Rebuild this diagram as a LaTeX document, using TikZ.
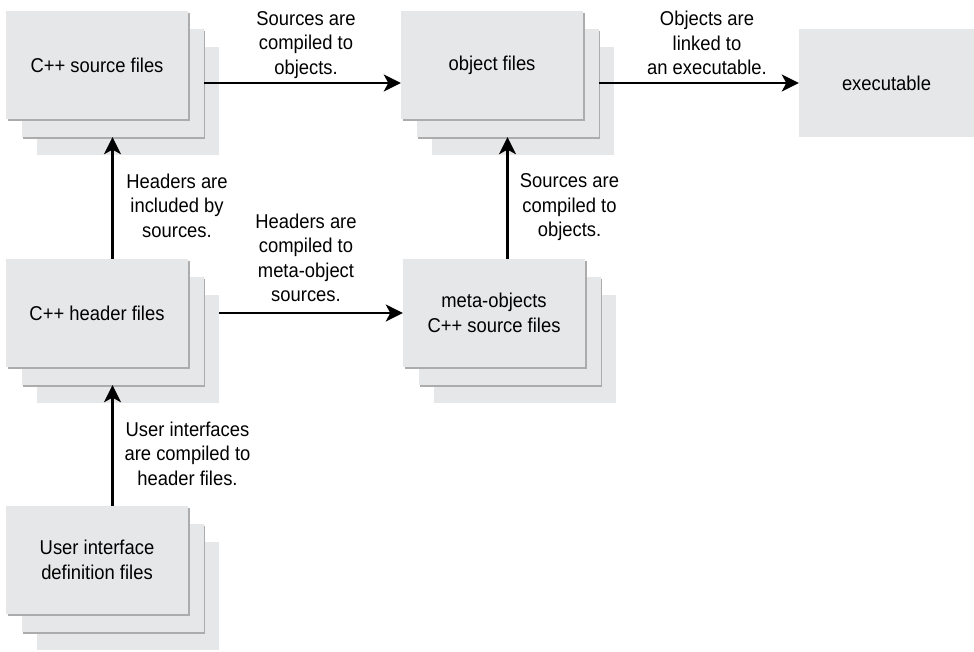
\documentclass[tikz,border=0pt]{standalone}
\usepackage{fontspec}
\setmainfont{Liberation Sans}[FakeStretch=0.92]
\usetikzlibrary{arrows.meta,shadows}
\definecolor{boxgray}{RGB}{230,231,232}
\definecolor{edgegray}{RGB}{172,172,172}

\begin{document}
\begin{tikzpicture}[x=1pt,y=-1pt]
                \tikzstyle{every node}+=[inner sep=0pt, font=\fontsize{20}{24.5}\selectfont]
                \tikzstyle{filebox}=[rectangle, fill=boxgray, minimum width=182pt, minimum height=108pt, align=center]
                \tikzstyle{edged}=[drop shadow={shadow xshift=1.5pt, shadow yshift=-1.5pt, fill=edgegray, opacity=1}]
                \tikzstyle{flowarrow}=[black, line width=2.6pt, -{Stealth[length=17pt, width=17pt, inset=4.5pt]}]
                \tikzstyle{flowlabel}=[anchor=north, align=center]
                \useasboundingbox (0,0) rectangle (974,651);
                \node [filebox] (src3) at (128,101) {};
                \node [filebox,edged] (src2) at (112.5,83) {};
                \node [filebox,edged] (src) at (97,65) {C++ source files};
                \node [filebox] (obj3) at (523,101) {};
                \node [filebox,edged] (obj2) at (507.5,83) {};
                \node [filebox,edged] (obj) at (492,65) {object files};
                \node [filebox, minimum width=175pt] (exe) at (886.5,83) {executable};
                \node [filebox] (hdr3) at (128,349) {};
                \node [filebox,edged] (hdr2) at (112.5,331) {};
                \node [filebox,edged] (hdr) at (97,313) {C++ header files};
                \node [filebox] (meta3) at (525,349) {};
                \node [filebox,edged] (meta2) at (509.5,331) {};
                \node [filebox,edged] (meta) at (494,313) {meta-objects\\C++ source files};
                \node [filebox] (ui3) at (128,596) {};
                \node [filebox,edged] (ui2) at (112.5,578) {};
                \node [filebox,edged] (ui) at (97,560) {User interface\\definition files};
                \draw [flowarrow] (src2.east) -- (src2.east -| obj.west);
                \node [flowlabel] (compileobj) at (306,11) {Sources are\\compiled to\\objects.};
                \draw [flowarrow] (obj2.east) -- (exe.west);
                \node [flowlabel] (linkexe) at (707,11) {Objects are\\linked to\\an executable.};
                \draw [flowarrow] (src2.south |- hdr.north) -- (src2.south);
                \node [flowlabel] (includehdr) at (177,173.5) {Headers are\\included by\\sources.};
                \draw [flowarrow] (obj2.south |- meta.north) -- (obj2.south);
                \node [flowlabel] (compilemeta) at (569.5,173.5) {Sources are\\compiled to\\objects.};
                \draw [flowarrow] (meta.west -| hdr3.east) -- (meta.west);
                \node [flowlabel] (mochdr) at (306,213.5) {Headers are\\compiled to\\meta-object\\sources.};
                \draw [flowarrow] (hdr2.south |- ui.north) -- (hdr2.south);
                \node [flowlabel] (uichdr) at (187.5,421.5) {User interfaces\\are compiled to\\header files.};
\end{tikzpicture}
\end{document}
